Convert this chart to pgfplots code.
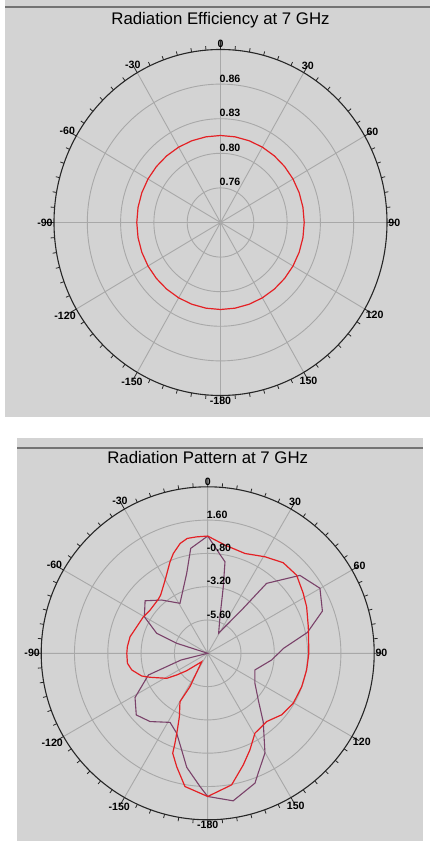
\documentclass[border=0pt]{standalone}
\usepackage{pgfplots}
\pgfplotsset{compat=1.18}
\usepgfplotslibrary{polar}
\usepackage{pgfplotstable}
\usepackage{fontspec}
\setmainfont{Liberation Sans}
\definecolor{panel}{RGB}{211,211,211}
\definecolor{gridc}{RGB}{168,168,168}
\definecolor{rline}{RGB}{228,32,36}
\definecolor{pline}{RGB}{122,66,106}

% radiation efficiency (angle in degrees clockwise from north, efficiency)
\pgfplotstableread{
ang eff
0 0.813
10 0.813
20 0.813
30 0.813
40 0.813
50 0.813
60 0.813
70 0.813
80 0.813
90 0.813
100 0.813
110 0.813
120 0.813
130 0.813
140 0.813
150 0.813
160 0.813
170 0.813
180 0.813
190 0.813
200 0.813
210 0.813
220 0.813
230 0.813
240 0.813
250 0.813
260 0.813
270 0.813
280 0.813
290 0.813
300 0.813
310 0.813
320 0.813
330 0.813
340 0.813
350 0.813
360 0.813
}\efftab

% radiation pattern, red trace (angle, dB)
\pgfplotstableread{
ang db
0 0.45
9.0 -0.10
20.5 -0.32
30.7 0.09
39.8 0.50
48.7 0.53
57.9 0.13
64.8 -0.12
75.2 -0.50
90.0 -0.71
99.6 -0.77
109.6 -0.81
120.3 -0.86
129.8 -1.07
139.2 -1.50
149.4 -1.31
156.4 -0.40
162.3 0.44
169.7 1.64
180.0 2.32
-170.3 1.74
-164.7 0.47
-160.7 -0.37
-160.0 -1.10
-158.4 -2.06
-155.9 -3.00
-150.2 -3.98
-152.0 -5.28
-144.5 -7.26
-129.6 -6.03
-125.0 -5.28
-121.4 -4.54
-112.6 -3.50
-109.0 -2.97
-102.4 -2.40
-97.1 -2.17
-90.0 -2.17
-85.3 -2.19
-77.9 -2.28
-69.5 -2.54
-60.4 -2.67
-53.1 -2.81
-42.3 -2.72
-38.9 -2.60
-30.2 -1.90
-22.4 -0.87
-19.0 -0.39
-14.1 0.16
-10.1 0.41
-5.4 0.43
0 0.45
}\redtab

% radiation pattern, purple trace (angle, dB)
\pgfplotstableread{
ang db
0 0.45
10.7 -1.29
13.2 -3.08
18.6 -5.22
28.5 -6.35
38.1 -4.03
40.1 -1.41
49.8 0.70
59.9 1.35
69.8 0.81
78.2 -0.66
86.2 -2.51
96.0 -3.37
109.4 -4.39
122.4 -3.97
132.7 -3.04
141.0 -1.64
150.1 0.28
157.4 1.42
160.0 1.96
170.2 2.79
180.0 2.32
-176.7 1.62
-169.6 0.36
-164.9 -0.79
-158.8 -1.82
-151.4 -2.33
-139.8 -1.56
-130.8 -1.20
-121.3 -1.87
-110.1 -3.45
-104.1 -6.02
-90.0 -8.00
-72.1 -5.65
-68.6 -4.05
-60.0 -2.73
-50.0 -2.11
-40.8 -2.93
-29.0 -3.88
-14.7 -2.04
-9.2 -0.34
0 0.45
}\purtab

\pgfplotsset{mypolar/.style={
  scale only axis, anchor=center,
  xtick={0,30,...,330},
  xticklabels={90,60,30,0,-30,-60,-90,-120,-150,-180,150,120},
  minor x tick num=5,
  yticklabels={},
  ytick style={draw=none},
  grid=major,
  major grid style={gridc, line width=0.9pt},
  axis line style={black!85, line width=1.1pt},
  y axis line style={draw=none},
  tick align=inside,
  major tick length=8.5pt, minor tick length=4pt,
  every tick/.style={black!85, line width=0.8pt},
  xticklabel style={font=\bfseries\fontsize{10.6}{12}\selectfont, inner sep=1.2pt},
  clip=false,
}}

\begin{document}
\begin{tikzpicture}
\useasboundingbox (0,0) rectangle (430pt,841pt);
\fill[white] (0,0) rectangle (430pt,841pt);
\fill[panel] (5pt,424pt) rectangle (430pt,841pt);
\draw[black!55, line width=1.4pt] (5pt,834pt) -- (430pt,834pt);
\fill[panel] (17pt,0pt) rectangle (423pt,403pt);
\draw[black!55, line width=1.4pt] (17pt,393pt) -- (423pt,393pt);
\node[anchor=base, inner sep=0pt, font=\fontsize{16.8}{19}\selectfont] at (220.5pt,816.5pt) {Radiation Efficiency at 7 GHz};
\node[anchor=base, inner sep=0pt, font=\fontsize{16.8}{19}\selectfont] at (207.7pt,377pt) {Radiation Pattern at 7 GHz};

\begin{polaraxis}[mypolar,
  at={(220.5pt,618.5pt)},
  width=333pt, height=346pt,
  ymin=0, ymax=0.175,
  ytick={0.035,0.07,0.105,0.14},
]
\addplot[rline, line width=1.2pt] table[x expr={90-\thisrow{ang}}, y expr={\thisrow{eff}-0.725}] {\efftab};
\foreach \r/\l in {0.035/0.76, 0.07/0.80, 0.105/0.83, 0.14/0.86}{
  \edef\tmp{\noexpand\node[anchor=base west, inner sep=0pt, xshift=-1pt, yshift=2pt, font=\noexpand\bfseries\noexpand\fontsize{10.6}{12}\noexpand\selectfont] at (axis cs:90,\r) {\l};}
  \tmp
}
\end{polaraxis}

\begin{polaraxis}[mypolar,
  at={(207.7pt,187.7pt)},
  width=333pt, height=333pt,
  ymin=0, ymax=12,
  ytick={2.4,4.8,7.2,9.6},
]
\addplot[pline, line width=1.1pt] table[x expr={90-\thisrow{ang}}, y expr={\thisrow{db}+8}] {\purtab};
\addplot[rline, line width=1.2pt] table[x expr={90-\thisrow{ang}}, y expr={\thisrow{db}+8}] {\redtab};
\foreach \r/\l in {2.4/-5.60, 4.8/-3.20, 7.2/-0.80, 9.6/1.60}{
  \edef\tmp{\noexpand\node[anchor=base west, inner sep=0pt, xshift=-1pt, yshift=2pt, font=\noexpand\bfseries\noexpand\fontsize{10.6}{12}\noexpand\selectfont] at (axis cs:90,\r) {\l};}
  \tmp
}
\end{polaraxis}
\end{tikzpicture}
\end{document}
